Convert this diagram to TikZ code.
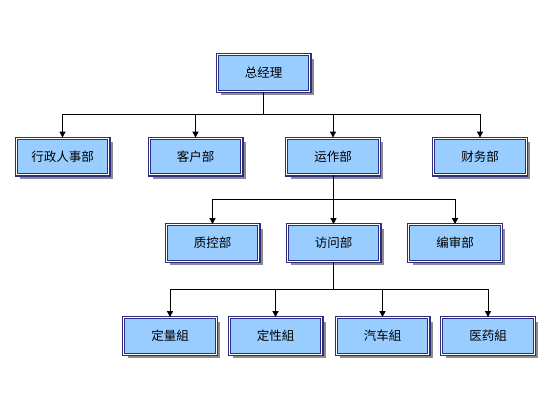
\documentclass[tikz,border=0pt]{standalone}
\usepackage{fontspec}
\newfontfamily\cjk{Noto Sans CJK SC}
\usetikzlibrary{arrows.meta, shadows}
\definecolor{boxblue}{RGB}{153,204,255}
\definecolor{boxline}{RGB}{45,45,130}
\definecolor{shadowgray}{RGB}{140,140,140}

\begin{document}
\begin{tikzpicture}[
    x=1pt, y=-1pt,
    unit/.style={draw=boxline, line width=1.1pt, double=white, double distance=1.1pt,
        fill=boxblue, minimum width=92.7pt, minimum height=36.7pt, inner sep=0pt,
        font=\cjk\fontsize{12.5}{14}\selectfont, text=black,
        drop shadow={shadow xshift=4pt, shadow yshift=-4pt, fill=shadowgray, opacity=1}},
    link/.style={draw=black, line width=0.9pt, -{Triangle[width=6pt,length=6pt]}}
]
\useasboundingbox (0,0) rectangle (553,413);

% top
\node[unit] (ceo) at (263.5,73) {总经理};

% second row
\node[unit] (admin) at (62.5,156.5) {行政人事部};
\node[unit] (client) at (195.5,156.5) {客户部};
\node[unit] (ops) at (333,156.5) {运作部};
\node[unit] (fin) at (480,156.5) {财务部};

% third row
\node[unit] (qc) at (212.5,243) {质控部};
\node[unit] (visit) at (333.5,243) {访问部};
\node[unit] (edit) at (455,243) {编审部};

% fourth row
\node[unit] (quant) at (170,336) {定量組};
\node[unit] (qual) at (275.5,336) {定性組};
\node[unit] (auto) at (382.5,336) {汽车組};
\node[unit] (med) at (488,336) {医药組};

% buses
\coordinate (bus1) at (0,114);
\coordinate (bus2) at (0,199);
\coordinate (bus3) at (0,289);

\foreach \c in {admin, client, ops, fin}
    \draw[link] (ceo.south) -- (ceo.south |- bus1) -| (\c.north);
\foreach \c in {qc, visit, edit}
    \draw[link] (ops.south) -- (ops.south |- bus2) -| (\c.north);
\foreach \c in {quant, qual, auto, med}
    \draw[link] (visit.south) -- (visit.south |- bus3) -| (\c.north);

\end{tikzpicture}
\end{document}
